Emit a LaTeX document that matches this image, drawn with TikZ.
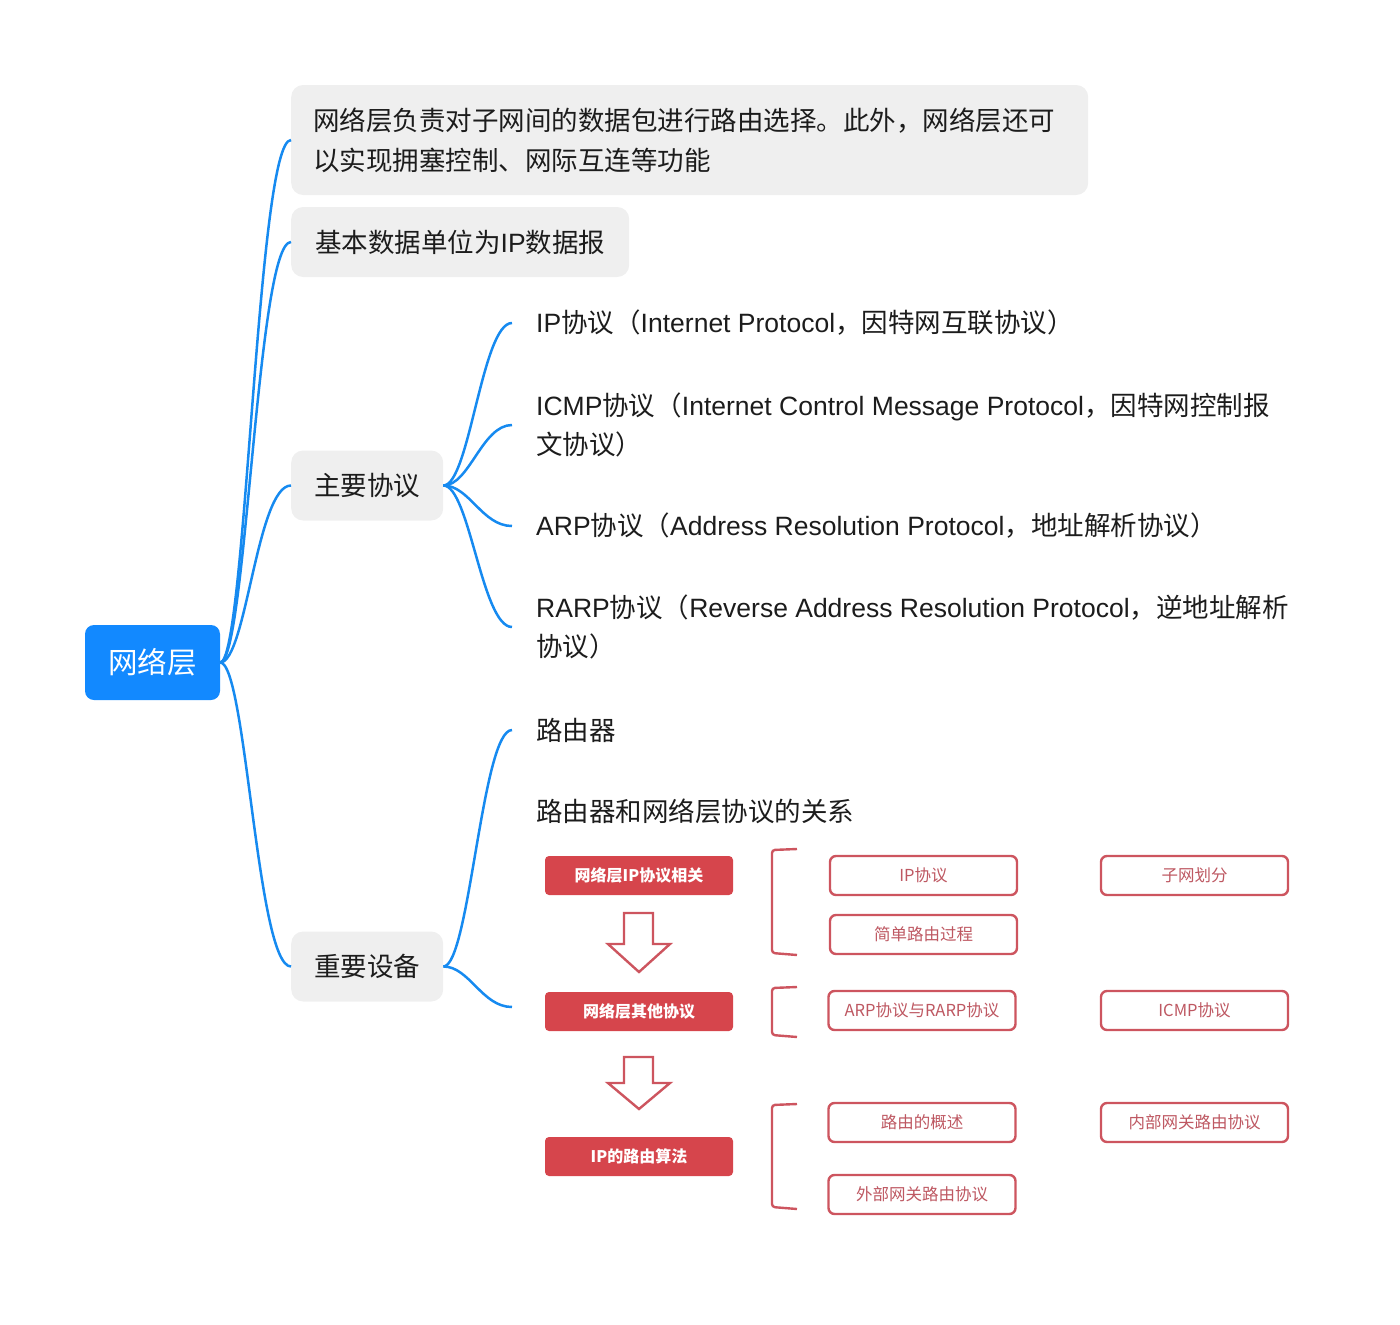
\documentclass[tikz,border=0pt]{standalone}
\usepackage{fontspec}
\setmainfont{Noto Sans CJK SC}
\newfontfamily\engfont{Liberation Sans}
\newcommand{\eng}[1]{{\engfont #1}}
\definecolor{xblue}{RGB}{18,137,255}
\definecolor{xline}{RGB}{22,138,240}
\definecolor{xgray}{RGB}{239,239,239}
\definecolor{xred}{RGB}{214,69,76}
\definecolor{xredline}{RGB}{205,85,95}
\definecolor{xredtext}{RGB}{190,88,98}
\definecolor{xtext}{RGB}{28,28,28}
\begin{document}
\begin{tikzpicture}[x=1pt,y=-1pt,
  rootbox/.style={fill=xblue, rounded corners=9pt, minimum width=135pt, minimum height=75pt, text=white, font=\fontsize{29.5}{36}\selectfont, inner sep=0pt},
  graybox/.style={fill=xgray, rounded corners=12pt, inner xsep=22pt, inner ysep=0pt, minimum height=70pt, text=xtext, font=\fontsize{26.5}{40}\selectfont, anchor=west},
  ptext/.style={anchor=west, inner xsep=24pt, inner ysep=0pt, align=left, text=xtext, font=\fontsize{26.5}{39.5}\selectfont},
  conn/.style={draw=xline, line width=2.5pt},
  redbox/.style={fill=xred, rounded corners=4pt, minimum width=188pt, minimum height=39pt, inner sep=0pt, text=white, font=\bfseries\fontsize{16}{18}\selectfont},
  obox/.style={draw=xredline, line width=2.4pt, fill=white, rounded corners=6pt, minimum width=187pt, minimum height=39pt, inner sep=0pt, text=xredtext, font=\fontsize{16.5}{18}\selectfont},
  redline/.style={draw=xredline, line width=2.4pt},
  hollow/.style={draw=xredline, line width=2.4pt, fill=white, line join=miter}
]
\useasboundingbox (0,0) rectangle (1400,1325);

% root
\node[rootbox] (root) at (152.5,662.5) {网络层};

% level 1
\node[graybox, text width=753pt, minimum height=110pt, align=left] (b1) at (291,140)
  {网络层负责对子网间的数据包进行路由选择。此外，网络层还可\\以实现拥塞控制、网际互连等功能};
\node[graybox, minimum width=338pt] (b2) at (291,242) {基本数据单位为\eng{IP}数据报};
\node[graybox, minimum width=152pt] (b3) at (291,485.5) {主要协议};
\node[graybox, minimum width=152pt] (b4) at (291,966.5) {重要设备};

\foreach \n in {b1,b2,b3,b4}
  \draw[conn] (root.east) .. controls +(26,0) and +(-34,0) .. (\n.west);

% protocols
\node[ptext] (p1) at (512,323) {\eng{IP}协议（\eng{Internet Protocol}，因特网互联协议）};
\node[ptext] (p2) at (512,425) {\eng{ICMP}协议（\eng{Internet Control Message Protocol}，因特网控制报\\文协议）};
\node[ptext] (p3) at (512,526) {\eng{ARP}协议（\eng{Address Resolution Protocol}，地址解析协议）};
\node[ptext] (p4) at (512,627) {\eng{RARP}协议（\eng{Reverse Address Resolution Protocol}，逆地址解析\\协议）};

\foreach \n in {p1,p2,p3,p4}
  \draw[conn] (b3.east) .. controls +(26,0) and +(-30,0) .. (\n.west);

% devices
\node[ptext] (d1) at (512,730) {路由器};
\node[anchor=west, minimum width=790pt, minimum height=426pt, inner sep=0pt] (d2) at (512,1007) {};
\node[ptext] (d2t) at (512,811) {路由器和网络层协议的关系};

\draw[conn] (b4.east) .. controls +(26,0) and +(-30,0) .. (d1.west);
\draw[conn] (b4.east) .. controls +(26,0) and +(-30,0) .. (d2.west);

% embedded figure
\node[redbox] (r1) at (639,875.5) {网络层IP协议相关};
\node[redbox] (r2) at (639,1011.5) {网络层其他协议};
\node[redbox] (r3) at (639,1156.5) {IP的路由算法};

\draw[hollow] (624,913) -- (653,913) -- (653,944) -- (670,944) -- (639,972) -- (608,944) -- (624,944) -- cycle;
\draw[hollow] (624,1057) -- (653,1057) -- (653,1083) -- (670,1083) -- (639,1109) -- (608,1083) -- (624,1083) -- cycle;

\draw[redline, rounded corners=3pt] (797,849) -- (772,850) -- (772,953) -- (797,955);
\draw[redline, rounded corners=3pt] (797,987) -- (772,988) -- (772,1035) -- (797,1037);
\draw[redline, rounded corners=3pt] (797,1104) -- (772,1105) -- (772,1207) -- (797,1209);

\node[obox] (o1) at (923.5,875.5) {IP协议};
\node[obox] (o2) at (923.5,934.5) {简单路由过程};
\node[obox] (o3) at (922,1010.5) {ARP协议与RARP协议};
\node[obox] (o4) at (922,1122.5) {路由的概述};
\node[obox] (o5) at (922,1194.5) {外部网关路由协议};
\node[obox] (o6) at (1194.5,875.5) {子网划分};
\node[obox] (o7) at (1194.5,1010.5) {ICMP协议};
\node[obox] (o8) at (1194.5,1122.5) {内部网关路由协议};
\end{tikzpicture}
\end{document}
